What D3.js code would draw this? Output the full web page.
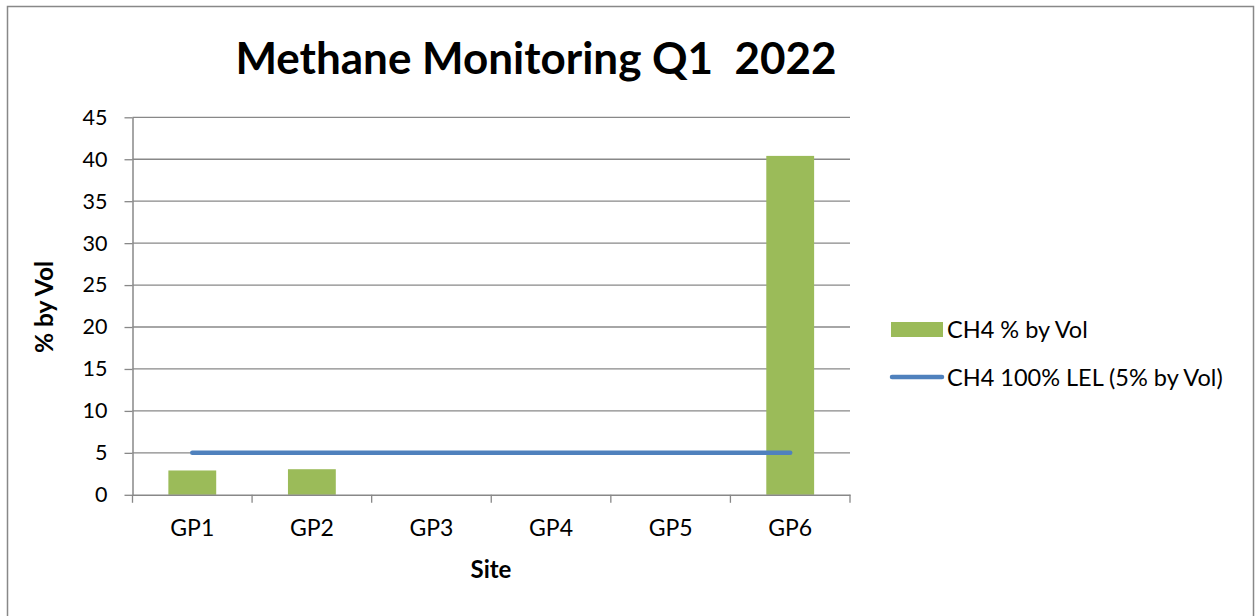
<!DOCTYPE html>
<html>
<head>
<meta charset="utf-8">
<script src="https://cdnjs.cloudflare.com/ajax/libs/d3/7.8.5/d3.min.js"></script>
<style>
	html, body { margin: 0; padding: 0; background: #ffffff; }
	svg { display: block; font-family: Lato, "Open Sans", sans-serif; }
</style>
</head>
<body>
<div id="chart"></div>
<script>
// chart data
var sites      = ["GP1", "GP2", "GP3", "GP4", "GP5", "GP6"];
var ch4Values  = [2.9, 3.05, 0, 0, 0, 40.4];
var lelValues  = [5, 5, 5, 5, 5, 5];
var yTicks     = [0, 5, 10, 15, 20, 25, 30, 35, 40, 45];
var seriesNames = ["CH4 % by Vol", "CH4 100% LEL (5% by Vol)"];

var width  = 1255;
var height = 616;

var plot = {left: 132.5, right: 850, top: 117.3, bottom: 494.8};

var gridColor = "#888888";
var barColor  = "#9bbb59";
var lineColor = "#4f81bd";

var svg = d3.select("#chart").append("svg")
	.attr("width", width)
	.attr("height", height);

// outer chart frame
svg.append("rect")
	.attr("x", 7.5)
	.attr("y", 6.5)
	.attr("width", 1246)
	.attr("height", 640)
	.attr("fill", "#ffffff")
	.attr("stroke", gridColor)
	.attr("stroke-width", 1.5);

// title
svg.append("text")
	.attr("x", 536)
	.attr("y", 74)
	.attr("text-anchor", "middle")
	.style("font-size", "44px")
	.style("font-weight", "bold")
	.style("white-space", "pre")
	.text("Methane Monitoring Q1  2022");

var x = d3.scaleBand()
	.domain(sites)
	.range([plot.left, plot.right])
	.paddingInner(0.6)
	.paddingOuter(0.3);

var y = d3.scaleLinear()
	.domain([0, 45])
	.range([plot.bottom, plot.top]);

// gridlines
svg.append("g")
	.selectAll("line")
	.data(yTicks.filter(function(d) { return d > 0; }))
	.join("line")
	.attr("x1", plot.left)
	.attr("x2", plot.right)
	.attr("y1", function(d) { return y(d); })
	.attr("y2", function(d) { return y(d); })
	.attr("stroke", gridColor)
	.attr("stroke-width", 1.3);

// y axis
var yAxis = svg.append("g")
	.attr("transform", "translate(" + plot.left + ",0)")
	.call(d3.axisLeft(y).tickValues(yTicks).tickSize(8).tickSizeOuter(0).tickPadding(17));
yAxis.selectAll("line").attr("stroke", gridColor).attr("stroke-width", 1.3);
yAxis.select(".domain").attr("stroke", gridColor).attr("stroke-width", 1.5);
yAxis.selectAll("text")
	.style("font-family", "Lato, 'Open Sans', sans-serif")
	.style("font-size", "21.5px")
	.attr("fill", "#000");

// bars
svg.append("g")
	.selectAll("rect")
	.data(sites)
	.join("rect")
	.attr("x", function(d) { return x(d); })
	.attr("width", x.bandwidth())
	.attr("y", function(d, i) { return y(ch4Values[i]); })
	.attr("height", function(d, i) { return plot.bottom - y(ch4Values[i]); })
	.attr("fill", barColor);

// x axis (labels centered, ticks on category boundaries)
var xAxis = svg.append("g")
	.attr("transform", "translate(0," + plot.bottom + ")")
	.call(d3.axisBottom(x).tickSize(0).tickSizeOuter(0).tickPadding(25));
xAxis.select(".domain").attr("stroke", gridColor).attr("stroke-width", 1.5);
xAxis.selectAll("text")
	.style("font-family", "Lato, 'Open Sans', sans-serif")
	.style("font-size", "23px")
	.attr("fill", "#000");

xAxis.selectAll(".bound")
	.data(d3.range(sites.length + 1))
	.join("line")
	.attr("class", "bound")
	.attr("x1", function(i) { return plot.left + i * x.step(); })
	.attr("x2", function(i) { return plot.left + i * x.step(); })
	.attr("y1", 0)
	.attr("y2", 8)
	.attr("stroke", gridColor)
	.attr("stroke-width", 1.3);

// LEL line
var line = d3.line()
	.x(function(d, i) { return x(sites[i]) + x.bandwidth() / 2; })
	.y(function(d) { return y(d); });

svg.append("path")
	.datum(lelValues)
	.attr("d", line)
	.attr("fill", "none")
	.attr("stroke", lineColor)
	.attr("stroke-width", 4.5)
	.attr("stroke-linecap", "round");

// axis titles
svg.append("text")
	.attr("transform", "translate(53,307) rotate(-90)")
	.attr("text-anchor", "middle")
	.style("font-size", "24.5px")
	.style("font-weight", "bold")
	.text("% by Vol");

svg.append("text")
	.attr("x", 491)
	.attr("y", 578)
	.attr("text-anchor", "middle")
	.style("font-size", "24px")
	.style("font-weight", "bold")
	.text("Site");

// legend
var legend = svg.append("g");

legend.append("rect")
	.attr("x", 891)
	.attr("y", 322)
	.attr("width", 52)
	.attr("height", 15)
	.attr("fill", barColor);

legend.append("line")
	.attr("x1", 892)
	.attr("x2", 942)
	.attr("y1", 377)
	.attr("y2", 377)
	.attr("stroke", lineColor)
	.attr("stroke-width", 4.5)
	.attr("stroke-linecap", "round");

legend.selectAll("text")
	.data(seriesNames)
	.join("text")
	.attr("x", 947)
	.attr("y", function(d, i) { return 338 + i * 48; })
	.style("font-size", "23.5px")
	.text(function(d) { return d; });
</script>
</body>
</html>
